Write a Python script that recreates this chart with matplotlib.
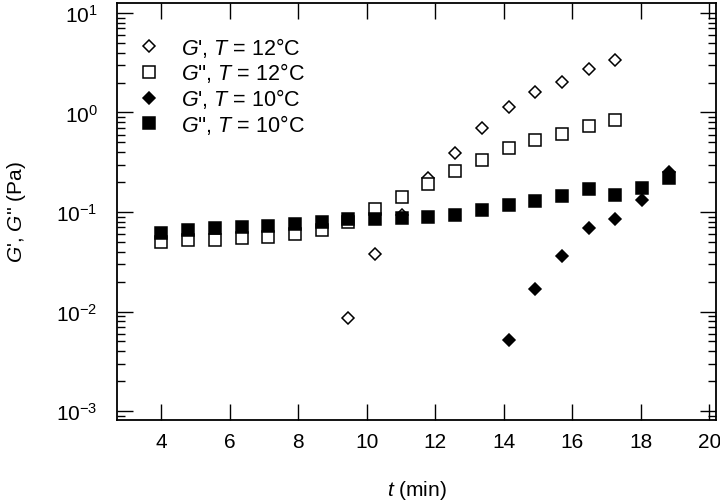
import matplotlib
matplotlib.use("Agg")
import matplotlib.pyplot as plt
from matplotlib.ticker import LogLocator, NullLocator, NullFormatter

plt.rcParams['font.family'] = ['Liberation Sans', 'DejaVu Sans']
plt.rcParams['mathtext.fontset'] = 'custom'
plt.rcParams['mathtext.rm'] = 'Liberation Sans'
plt.rcParams['mathtext.it'] = 'Liberation Sans:italic'
plt.rcParams['mathtext.bf'] = 'Liberation Sans:bold'

# time points (min)
t_all = [4.00, 4.78, 5.56, 6.34, 7.12, 7.90, 8.68, 9.46, 10.24, 11.02,
         11.80, 12.58, 13.36, 14.14, 14.92, 15.70, 16.48, 17.26, 18.04, 18.82]

# G'' at T = 12 C (open squares)
t_g2_12 = t_all[:18]
g2_12 = [0.050, 0.052, 0.052, 0.055, 0.056, 0.060, 0.066, 0.080, 0.107, 0.140,
         0.190, 0.260, 0.330, 0.440, 0.530, 0.610, 0.730, 0.840]

# G' at T = 12 C (open diamonds)
t_g1_12 = t_all[7:18]
g1_12 = [0.0086, 0.038, 0.093, 0.22, 0.39, 0.70, 1.13, 1.61, 2.03, 2.74, 3.37]

# G' at T = 10 C (filled diamonds)
t_g1_10 = t_all[13:20]
g1_10 = [0.0052, 0.017, 0.036, 0.069, 0.085, 0.132, 0.25]

# G'' at T = 10 C (filled squares)
t_g2_10 = t_all
g2_10 = [0.0615, 0.066, 0.069, 0.0706, 0.072, 0.0757, 0.079, 0.085, 0.085, 0.087,
         0.089, 0.093, 0.105, 0.117, 0.129, 0.145, 0.170, 0.148, 0.174, 0.219]

labels = [r"$G$', $T$ = 12°C", r"$G$'', $T$ = 12°C",
          r"$G$', $T$ = 10°C", r"$G$'', $T$ = 10°C"]

fig = plt.figure(figsize=(7.2, 5.02), dpi=100)
ax = fig.add_axes([117/720, 1-421/502, (716-117)/720, (421-4)/502])

ms_sq = 9.3
ms_d = 6.6
lw = 1.1
h1, = ax.plot(t_g1_12, g1_12, ls='none', marker='D', ms=ms_d, mfc='white', mec='black', mew=lw, zorder=3)
h2, = ax.plot(t_g2_12, g2_12, ls='none', marker='s', ms=ms_sq, mfc='white', mec='black', mew=lw, zorder=3)
h3, = ax.plot(t_g1_10, g1_10, ls='none', marker='D', ms=ms_d, mfc='black', mec='black', mew=lw, zorder=4)
h4, = ax.plot(t_g2_10, g2_10, ls='none', marker='s', ms=ms_sq, mfc='black', mec='black', mew=lw, zorder=5)

ax.set_yscale('log')
ax.set_xlim(2.7, 20.2)
ax.set_ylim(10**-3.09, 10**1.10)

ax.set_xticks([4, 6, 8, 10, 12, 14, 16, 18, 20])
ax.xaxis.set_minor_locator(NullLocator())
ax.yaxis.set_major_locator(LogLocator(base=10, numticks=10))
ax.yaxis.set_minor_locator(LogLocator(base=10, subs=range(2, 10), numticks=10))
ax.yaxis.set_minor_formatter(NullFormatter())

ax.tick_params(which='major', direction='in', length=11.5, width=1.0,
               top=True, right=True, labelsize=15, pad=9)
ax.tick_params(which='minor', direction='in', length=5.5, width=1.0,
               top=True, right=True)
ax.tick_params(axis='y', which='major', pad=14)
for s in ax.spines.values():
    s.set_linewidth(1.3)

ax.set_xlabel(r"$t$ (min)", fontsize=15, labelpad=19)
ax.set_ylabel(r"$G$', $G$'' (Pa)", fontsize=15, labelpad=20)

leg = ax.legend([h1, h2, h3, h4], labels, loc='upper left', frameon=False,
                fontsize=15.5, handlelength=1.0, handletextpad=0.95,
                labelspacing=0.08, borderaxespad=0.3, bbox_to_anchor=(0.011, 0.96))

fig.savefig("out.png", dpi=100)
